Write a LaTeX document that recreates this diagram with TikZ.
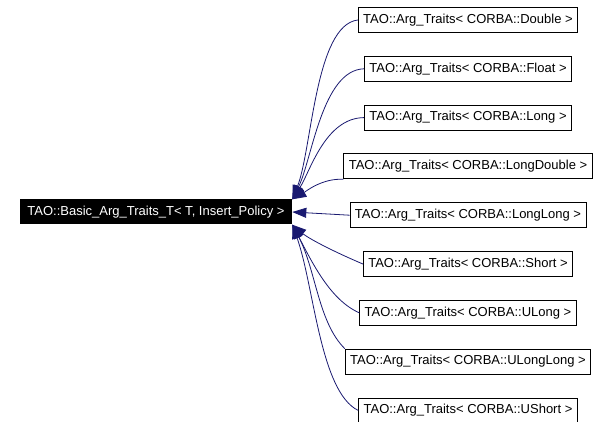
\documentclass[tikz,border=0pt]{standalone}
\usepackage{fontspec}
\setmainfont{Liberation Sans}
\definecolor{TAOblue}{HTML}{191970}
\usepackage{tikz}
\usetikzlibrary{positioning,arrows.meta}

\begin{document}
\begin{tikzpicture}[x=1pt,y=-1pt,
        argbox/.style={rectangle,draw=black,line width=0.8pt,fill=white,
              minimum height=25pt,inner xsep=5pt,inner ysep=0pt,
              font=\fontsize{13}{15}\selectfont},
        basebox/.style={rectangle,fill=black,text=white,
              minimum height=25pt,inner xsep=7.5pt,inner ysep=0pt,
              font=\fontsize{13}{15}\selectfont},
        inherit/.style={{Triangle[length=14pt,width=10pt]}-,
              draw=TAOblue,fill=none,line width=0.8pt}]
        \useasboundingbox (0,0) rectangle (611,422);
        \node[basebox] (base) at (156,212)
              {TAO::Basic\_Arg\_Traits\_T< T, Insert\_Policy >};
        \node[argbox] (dbl) at (468,20) {TAO::Arg\_Traits< CORBA::Double >};
        \node[argbox,below=23pt of dbl] (flt)
              {TAO::Arg\_Traits< CORBA::Float >};
        \node[argbox,below=23pt of flt] (lng)
              {TAO::Arg\_Traits< CORBA::Long >};
        \node[argbox,below=23pt of lng] (ldbl)
              {TAO::Arg\_Traits< CORBA::LongDouble >};
        \node[argbox,below=23pt of ldbl] (llng)
              {TAO::Arg\_Traits< CORBA::LongLong >};
        \node[argbox,below=23pt of llng] (shrt)
              {TAO::Arg\_Traits< CORBA::Short >};
        \node[argbox,below=23pt of shrt] (ulng)
              {TAO::Arg\_Traits< CORBA::ULong >};
        \node[argbox,below=23pt of ulng] (ullng)
              {TAO::Arg\_Traits< CORBA::ULongLong >};
        \node[argbox,below=23pt of ullng] (ushrt)
              {TAO::Arg\_Traits< CORBA::UShort >};
        % upper edges end at the top corner
        \draw[inherit] (base.north east) .. controls (312,150) and (315,25) .. (dbl.west);
        \draw[inherit] (base.north east) .. controls (312,160) and (322,70) .. (flt.west);
        \draw[inherit] (base.north east) .. controls (310,172) and (325,118) .. (lng.west);
        \draw[inherit] (base.north east) .. controls (305,192) and (322,178) .. (ldbl.south west);
        \draw[inherit] (base.east) -- (llng.west);
        % lower edges end at the bottom corner
        \draw[inherit] (base.south east) .. controls (308,238) and (330,250) .. (shrt.west);
        \draw[inherit] (base.south east) .. controls (312,262) and (330,300) .. (ulng.west);
        \draw[inherit] (base.south east) .. controls (316,270) and (318,322) .. (ullng.north west);
        \draw[inherit] (base.south east) .. controls (314,285) and (320,392) .. (ushrt.west);
      \end{tikzpicture}
\end{document}
